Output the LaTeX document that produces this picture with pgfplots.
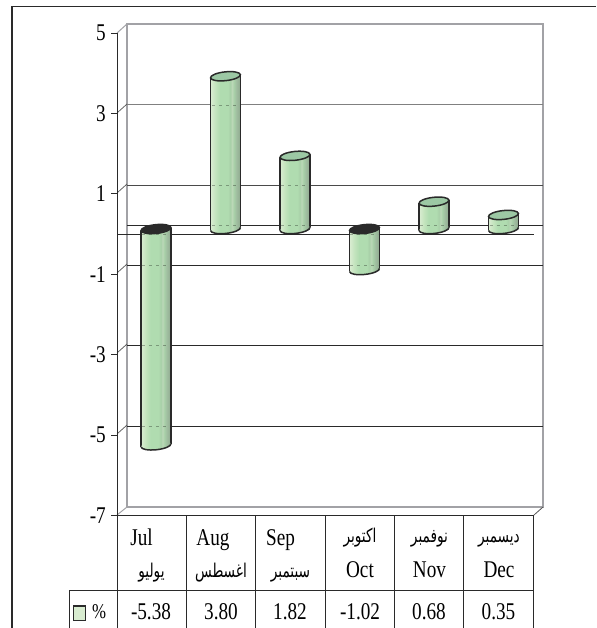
\documentclass[border=0pt]{standalone}
\usepackage{fontspec}
\usepackage{pgfplots}
\pgfplotsset{compat=1.18}
\setmainfont[FakeStretch=0.8]{Liberation Serif}
\newfontfamily\arabicfont[Script=Arabic,FakeStretch=0.72]{DejaVu Sans}
\TeXXeTstate=1
\definecolor{capg}{HTML}{9CC8A4}
\definecolor{wallg}{HTML}{A2A2A6}
\definecolor{ink}{HTML}{2A2A2A}
\definecolor{c1}{HTML}{D8ECD0}
\definecolor{c2}{HTML}{C4E4BE}
\definecolor{c3}{HTML}{B0DCB0}
\definecolor{c4}{HTML}{A8D0A8}
\definecolor{c5}{HTML}{BCD8B8}
\definecolor{c6}{HTML}{A0BEA0}
\definecolor{c7}{HTML}{8EA88E}
\pgfdeclarehorizontalshading{cyl}{100bp}{
 color(0bp)=(c1);
 color(26bp)=(c1);
 color(33bp)=(c2);
 color(41bp)=(c3);
 color(54bp)=(c3);
 color(58bp)=(c4);
 color(61bp)=(c5);
 color(64bp)=(c4);
 color(68bp)=(c6);
 color(75bp)=(c7);
 color(100bp)=(c7)}
\newcommand{\capshape}{\pgftransformrotate{6}\pgfpathellipse{\pgfpointorigin}{\pgfqpoint{15pt}{0pt}}{\pgfqpoint{0pt}{4.4pt}}}
\pgfdeclareplotmark{topgreen}{\pgfsetlinewidth{1.5pt}\pgfsetstrokecolor{ink}\pgfsetfillcolor{capg}\capshape\pgfusepathqfillstroke}
\pgfdeclareplotmark{topblack}{\pgfsetlinewidth{1.5pt}\pgfsetstrokecolor{ink}\pgfsetfillcolor{ink}\capshape\pgfusepathqfillstroke}
\pgfdeclareplotmark{cylbot}{\pgfsetlinewidth{1.5pt}\pgfsetstrokecolor{ink}\capshape\pgfshadepath{cyl}{0}\pgfusepath{discard}
 \pgfpathmoveto{\pgfqpoint{-15pt}{0pt}}\pgfpatharc{180}{360}{15pt and 4.4pt}\pgfusepathqstroke}
\newcommand{\sh}[2]{\makebox[60pt]{\hspace*{\dimexpr 2\dimexpr #1\relax\relax}\rule{0pt}{22pt}#2}}
\newcommand{\ar}[1]{{\arabicfont\fontsize{19}{20}\selectfont\beginR #1\endR}}
\newcommand{\art}[1]{\raisebox{3pt}{\ar{#1}}}
\newcommand{\body}[2]{\addplot[ybar,bar width=30pt,bar shift=0pt,draw=none,shade,shading=cyl,yshift=5pt] coordinates {(#1,#2)};}
\begin{document}
\begin{tikzpicture}
\useasboundingbox (0,0) rectangle (596pt,-628pt);
\begin{scope}[x=1pt,y=-1pt]
 \draw[wallg,line width=1.8pt] (127,507) -- (127,24) -- (543,24) -- (543,507) -- cycle;
 \draw[wallg,line width=1pt] (117,515) -- (127,507);
 \draw[wallg,line width=1pt] (117,33) -- (127,24);
 \draw[ink!80,line width=.8pt] (534,515) -- (543,507);
 \draw[gray,line width=1pt] (127,105)--(543,105);
 \draw[ink!85,line width=.9pt] (127,185)--(543,185);
 \foreach \y in {225,265,345,426} \draw[ink,line width=.9pt] (127,\y)--(543,\y);
 \foreach \y in {113,193,273,353,434} \draw[ink!80,line width=.7pt] (117,\y)--(127,\y-9);
 \draw[ink,line width=.9pt] (117,234)--(534,234);
\end{scope}
\begin{axis}[
 at={(117pt,-515.5pt)},anchor=south west,scale only axis,
 width=417pt,height=482.5pt,clip=false,
 xmin=-0.561,xmax=5.439,ymin=-7,ymax=5,
 axis lines=left,axis line style={-,ink,line width=.9pt},
 xtick={0,1,2,3,4,5},ytick={-7,-5,-3,-1,1,3,5},
 yticklabels={-7,-5,-3,-1,1,3,5},
 xticklabels={
  {\sh{-10pt}{Jul}\\\sh{0pt}{\ar{يوليو}}},
  {\sh{-8pt}{Aug}\\\sh{0pt}{\ar{اغسطس}}},
  {\sh{-10pt}{Sep}\\\sh{0pt}{\ar{سبتمبر}}},
  {\sh{0pt}{\art{اكتوبر}}\\\sh{0pt}{Oct}},
  {\sh{0pt}{\art{نوفمبر}}\\\sh{0pt}{Nov}},
  {\sh{0pt}{\art{ديسمبر}}\\\sh{0pt}{Dec}}},
 xticklabel style={align=center,font=\fontsize{24}{32}\selectfont,xshift=-4.5pt,yshift=-2pt,inner sep=0pt,anchor=north},
 yticklabel style={font=\fontsize{24}{26}\selectfont,inner sep=0pt,xshift=-5pt},
 major x tick style={draw=none},
 major y tick style={ink,line width=.8pt},
 tick align=outside,tick pos=left,major tick length=6pt,
]
 \addplot[only marks,mark=cylbot,yshift=5pt] coordinates {(0,-5.38)(1,0)(2,0)(3,-1.02)(4,0)(5,0)};
 \body{0}{-5.38}
 \body{1}{3.80}
 \body{2}{1.82}
 \body{3}{-1.02}
 \body{4}{0.68}
 \body{5}{0.35}
 \addplot[ybar,bar width=0pt,bar shift=-15pt,draw=ink,line width=1.5pt,yshift=3.5pt] coordinates {(0,-5.38)(1,3.80)(2,1.82)(3,-1.02)(4,0.68)(5,0.35)};
 \addplot[ybar,bar width=0pt,bar shift=15pt,draw=ink,line width=1.5pt,yshift=6.5pt] coordinates {(0,-5.38)(1,3.80)(2,1.82)(3,-1.02)(4,0.68)(5,0.35)};
 \addplot[only marks,mark=topgreen,yshift=5pt] coordinates {(1,3.80)(2,1.82)(4,0.68)(5,0.35)};
 \addplot[only marks,mark=topblack,yshift=5pt] coordinates {(0,0)(3,0)};
\end{axis}
\begin{scope}[x=1pt,y=-1pt]
 \foreach \x/\y in {156/265,156/345,156/426,156/234,226/105,226/185,226/225,295/185,295/225,364/265,364/234,434/225,503.5/225}
  \draw[black,opacity=.3,line width=.8pt,dash pattern=on 3pt off 4pt] (\x-14,\y)--(\x+14,\y);
 \draw[ink,line width=1.5pt] (12,628)--(12,6.5)--(596,6.5);
 \draw[ink,line width=.9pt] (69,590.5)--(533.5,590.5) (69,590.5)--(69,628);
 \foreach \x in {117,186.3,255.5,325,394.3,463.7,533.3} \draw[ink,line width=.8pt] (\x,515.5)--(\x,628);
 \draw[ink,line width=1.5pt,fill=c1] (73.5,606)rectangle(85.5,620.5);
 \node[font=\fontsize{21}{24}\selectfont] at (99,612) {\%};
 \foreach \x/\v in {151/-5.38,221/3.80,290/1.82,360/-1.02,429/0.68,498.5/0.35}
  \node[font=\fontsize{24}{26}\selectfont,inner sep=0pt] at (\x,612) {\v};
\end{scope}
\end{tikzpicture}
\end{document}
